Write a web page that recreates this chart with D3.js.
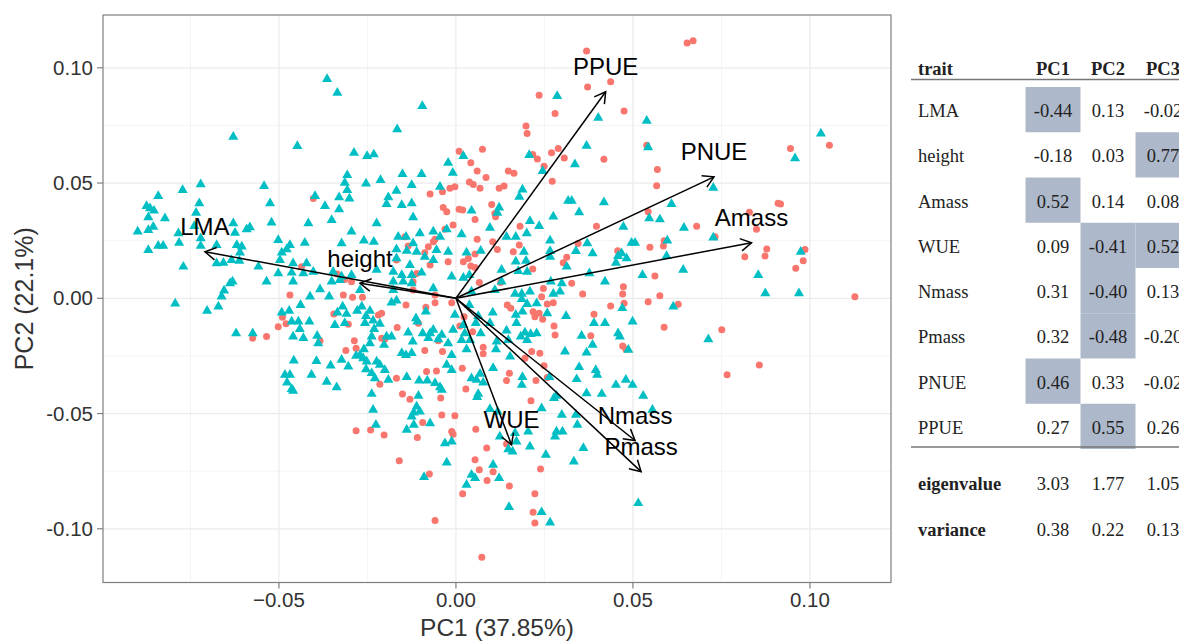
<!DOCTYPE html>
<meta charset="utf-8">
<style>

body {
    margin: 0;
    background: #fff;
}

svg {
    display: block;
}

.grid-major line {
    stroke: #ebebeb;
    stroke-width: 1.2px;
}

.grid-minor line {
    stroke: #f1f1f1;
    stroke-width: 0.8px;
}

.tick-label,
.axis-title {
    font-family: "Liberation Sans", Arial, sans-serif;
    fill: #333;
}

.loading-label {
    font-family: "Liberation Sans", Arial, sans-serif;
    font-size: 24px;
    fill: #000;
}

.tbl text {
    font-family: "Liberation Serif", "Times New Roman", serif;
    font-size: 18.5px;
    fill: #222;
}

</style>

<svg width="1179" height="642"></svg>
<script src="https://cdn.jsdelivr.net/npm/d3@7"></script>

<script>

// axis ticks
var xTicks = [-0.05, 0, 0.05, 0.10];
var xTickLabels = ["\u22120.05", "0.00", "0.05", "0.10"];
var yTicks = [-0.10, -0.05, 0, 0.05, 0.10];
var yTickLabels = ["-0.10", "-0.05", "0.00", "0.05", "0.10"];
var xMinor = [-0.075, -0.025, 0.025, 0.075];
var yMinor = [-0.075, -0.025, 0.025, 0.075];

// site scores, group shown as triangles
var triPoints = [
    [-.0629,.0700],[-.0841,.0443],[-.0772,.0469],[-.0721,.0494],[-.0874,.0400],[-.0864,.0390],[-.0853,.0380],[-.0869,.0351],[-.0822,.0347],[-.0725,.0412],[-.0734,.0371],[-.0855,.0310],[-.0869,.0296],[-.0899,.0289],[-.0739,.0313],[-.0784,.0282],[-.0782,.0241],[-.0841,.0228],[-.0827,.0228],[-.0869,.0209],[-.0721,.0227],[-.0721,.0260],[-.0629,.0325],[-.0624,.0284],[-.0591,.0299],[-.0582,.0308],[-.0619,.0231],[-.0605,.0224],[-.0610,.0198],[-.0634,.0166],[-.0612,.0163],[-.0676,.0231],[-.0676,.0152],[-.0657,.0154],[-.0770,.0137],[-.0558,.0137],[-.0638,.0065],[-.0631,.0072],[-.0655,.0033],[-.0662,.0007],[-.0793,-.0023],[-.0703,-.0054],[-.0671,-.0036],[-.0621,-.0152],[-.0574,-.0152],
    [-.0364,.0951],
    [-.0335,.0891],[-.0095,.0834],[-.0166,.0733],[-.0448,.0660],[-.0288,.0631],[-.0251,.0617],[-.0232,.0624],[-.0022,.0588],[-.0009,.0544],[-.0307,.0534],[-.0151,.0539],[-.0097,.0539],[-.0542,.0487],[-.0314,.0501],[-.0254,.0498],[-.0213,.0513],[-.0125,.0491],[-.0307,.0469],[-.0168,.0466],[-.0045,.0484],[-.0525,.0412],[-.0398,.0443],[-.0330,.0438],[-.0301,.0433],[-.0191,.0438],[-.0196,.0409],[-.0153,.0404],[-.0125,.0412],[-.0370,.0400],[-.0330,.0386],[-.0121,.0351],[-.0521,.0328],[-.0417,.0325],[-.0351,.0339],[-.0224,.0325],[-.0295,.0289],[-.0064,.0289],[-.0026,.0299],[-.0502,.0253],[-.0469,.0231],[-.0427,.0241],[-.0323,.0238],[-.0260,.0250],[-.0232,.0245],[-.0163,.0267],[-.0141,.0267],[-.0102,.0282],[-.0045,.0267],[-.0121,.0238],[-.0492,.0198],[-.0478,.0212],[-.0168,.0212],[-.0139,.0206],[-.0111,.0202],[-.0055,.0209],[-.0022,.0202],[-.0088,.0180],[-.0497,.0166],[-.0460,.0152],[-.0422,.0152],[-.0168,.0173],[-.0130,.0144],[-.0064,.0166],[-.0502,.0108],[-.0464,.0111],[-.0431,.0108],[-.0403,.0115],[-.0347,.0115],[-.0323,.0094],[-.0295,.0101],[-.0224,.0123],[-.0177,.0115],[-.0153,.0101],[-.0125,.0101],[-.0097,.0111],[-.0177,.0072],[-.0149,.0072],[-.0125,.0065],[-.0535,.0072],[-.0460,.0072],[-.0384,.0039],[-.0351,.0072],[-.0328,.0079],[-.0271,.0036],[-.0177,.0036],[-.0064,.0043],[-.0412,.0007],[-.0358,.0007],[-.0012,.0094],
    [.0286,.0877],[.0402,.0783],[.0539,.0770],[.0021,.0617],[.0207,.0621],[.0369,.0661],[.0336,.0581],[.0543,.0655],[.0245,.0552],[.0188,.0472],[.0179,.0440],[.0327,.0423],[.0317,.0423],[.0418,.0416],[.0122,.0394],[.0044,.0380],[.0117,.0371],[.0275,.0354],[.0348,.0373],[.0209,.0335],[.0096,.0306],[.0235,.0313],[.0200,.0282],[.0016,.0277],[.0143,.0267],[.0169,.0267],[.0266,.0250],[.0371,.0238],[.0473,.0310],[.0496,.0241],[.0506,.0241],[.0030,.0198],[.0070,.0206],[.0192,.0202],[.0266,.0205],[.0339,.0205],[.0386,.0195],[.0458,.0183],[.0468,.0195],[.0169,.0159],[.0198,.0163],[.0266,.0180],[.0313,.0137],[.0452,.0154],[.0482,.0173],[.0527,.0101],[.0129,.0123],[.0176,.0118],[.0201,.0115],[.0377,.0108],[.0021,.0089],[.0038,.0101],[.0129,.0072],[.0268,.0072],[.0299,.0065],[.0421,.0072],[.0110,.0036],[.0167,.0019],[.0186,.0019],[.0209,.0029],[.0275,.0019],[.0294,.0029],[.0044,.0029],
    [.1031,.0715],[.0958,.0607],[.0727,.0479],[.0609,.0409],[.0576,.0342],[.0546,.0347],[.0644,.0306],[.0597,.0250],[.0727,.0263],[.0974,.0202],[.0642,.0123],[.0854,.0101],[.0874,.0022],[.0969,.0022],[.0614,-.0036],[.0595,.0183],[.0713,-.0178],[.0555,-.0484],
    [.0150,-.0906],[.0242,-.0928],[.0266,-.0973],[.0515,-.0889],
    [-.0439,-.0029],[-.0492,-.0062],[-.0471,-.0054],[-.0464,-.0101],[-.0445,-.0101],[-.0414,-.0101],[-.0441,-.0134],[-.0460,-.0166],[-.0431,-.0173],[-.0392,-.0163],[-.0389,-.0195],[-.0335,-.0062],[-.0320,-.0036],[-.0309,-.0068],[-.0342,-.0116],[-.0314,-.0108],[-.0279,-.0054],[-.0266,-.0036],[-.0254,-.0077],[-.0243,-.0054],[-.0257,-.0108],[-.0234,-.0097],[-.0215,-.0111],[-.0231,-.0134],[-.0238,-.0166],[-.0182,-.0019],[-.0168,-.0010],[-.0196,-.0166],[-.0182,-.0166],[-.0203,-.0202],[-.0243,-.0195],[-.0260,-.0221],[-.0271,-.0246],[-.0262,-.0260],[-.0282,-.0250],[-.0252,-.0275],[-.0224,-.0275],[-.0215,-.0289],[-.0238,-.0325],[-.0201,-.0311],[-.0229,-.0347],[-.0191,-.0354],[-.0139,-.0342],[-.0153,-.0238],[-.0141,-.0246],[-.0125,-.0238],[-.0113,-.0087],[-.0085,-.0058],[-.0109,-.0101],[-.0135,-.0149],[-.0122,-.0188],[-.0094,-.0152],[-.0073,-.0152],[-.0064,-.0137],[-.0078,-.0173],[-.0050,-.0178],[-.0022,-.0195],[-.0008,-.0137],[-.0003,-.0072],[-.0040,-.0159],[-.0012,-.0246],[-.0026,-.0289],[-.0012,-.0311],[-.0104,-.0357],[-.0081,-.0357],[-.0059,-.0368],[-.0045,-.0386],[-.0040,-.0397],[-.0458,-.0270],[-.0394,-.0272],[-.0354,-.0292],[-.0323,-.0267],[-.0304,-.0296],[-.0483,-.0332],[-.0469,-.0332],[-.0408,-.0332],[-.0477,-.0366],[-.0464,-.0394],[-.0460,-.0401],[-.0365,-.0362],[-.0337,-.0386],[-.0254,-.0308],[-.0238,-.0415],[-.0106,-.0423],[-.0234,-.0484],[-.0226,-.0549],[-.0111,-.0470],[-.0119,-.0496],[-.0125,-.0513],[-.0102,-.0492],[-.0119,-.0549],[-.0139,-.0571],[-.0073,-.0542],[-.0031,-.0629],[-.0012,-.0622],[-.0026,-.0713],[-.0090,-.0776],
    [.0186,-.0004],[.0201,-.0025],[.0228,-.0022],[.0104,-.0062],[.0169,-.0072],[.0188,-.0058],[.0258,-.0065],[.0311,-.0077],[.0390,-.0108],[.0421,-.0108],[.0499,-.0101],[.0470,-.0043],[.0063,-.0077],[.0021,-.0116],[.0056,-.0108],[.0096,-.0108],[.0171,-.0108],[.0025,-.0152],[.0070,-.0152],[.0143,-.0140],[.0195,-.0149],[.0211,-.0155],[.0201,-.0181],[.0183,-.0166],[.0228,-.0152],[.0115,-.0188],[.0148,-.0181],[.0355,-.0163],[.0458,-.0152],[.0463,-.0166],[.0016,-.0181],[.0040,-.0181],[.0030,-.0221],[.0113,-.0221],[.0153,-.0253],[.0308,-.0231],[.0369,-.0236],[.0386,-.0202],[.0487,-.0224],[.0105,-.0303],[.0068,-.0328],[.0044,-.0347],[.0058,-.0354],[.0077,-.0366],[.0188,-.0342],[.0186,-.0376],[.0264,-.0342],[.0277,-.0433],[.0348,-.0299],[.0395,-.0311],[.0399,-.0332],[.0341,-.0351],[.0452,-.0376],[.0480,-.0354],[.0499,-.0376],[.0369,-.0412],[.0412,-.0415],[.0529,-.0423],[.0063,-.0415],[.0060,-.0429],[.0284,-.0423],[.0096,-.0481],[.0118,-.0492],[.0242,-.0477],[.0299,-.0506],[.0339,-.0506],[.0343,-.0549],[.0284,-.0578],[.0301,-.0578],[.0280,-.0600],[.0204,-.0578],[.0124,-.0600],[.0167,-.0585],[.0171,-.0622],[.0148,-.0655],[.0160,-.0665],[.0209,-.0643],[.0254,-.0679],[.0360,-.0650],[.0333,-.0708],[.0105,-.0723],[.0044,-.0766],[.0054,-.0780],[.0122,-.0780],[.0030,-.0809],[.0038,-.0029]
];

// site scores, group shown as circles
var circPoints = [
    [-.0574,-.0173],
    [-.0073,.0452],[-.0038,.0462],[-.0017,.0477],[-.0003,.0484],[-.0403,.0433],[-.0036,.0394],[-.0026,.0375],[-.0008,.0318],[-.0031,.0299],[-.0144,.0267],[-.0059,.0256],[-.0135,.0227],[-.0078,.0224],[-.0064,.0245],[-.0088,.0198],[-.0168,.0166],[-.0073,.0144],[-.0022,.0159],[-.0436,.0137],[-.0335,.0105],[-.0314,.0082],[-.0295,.0072],[-.0111,.0108],[-.0121,.0072],[-.0469,.0014],[-.0318,.0014],[-.0059,.0014],[-.0121,.0036],[.0011,-.0120],
    [.0235,.0881],[.0280,.0802],[.0475,.0812],[.0198,.0747],[.0201,.0715],[.0539,.0664],[.0009,.0638],[.0075,.0647],[.0217,.0624],[.0230,.0604],[.0270,.0631],[.0289,.0650],[.0306,.0609],[.0418,.0603],[.0042,.0588],[.0249,.0573],[.0060,.0552],[.0148,.0552],[.0164,.0542],[.0085,.0524],[.0272,.0508],[.0038,.0505],[.0049,.0494],[.0068,.0477],[.0122,.0477],[.0136,.0487],[.0101,.0407],[.0009,.0386],[.0019,.0383],[.0110,.0368],[.0054,.0342],[.0112,.0354],[.0181,.0313],[.0397,.0313],[.0060,.0256],[.0104,.0245],[.0179,.0231],[.0345,.0238],[.0117,.0212],[.0162,.0202],[.0054,.0192],[.0035,.0173],[.0021,.0159],[.0042,.0140],[.0054,.0134],[.0313,.0178],[.0303,.0154],[.0457,.0206],[.0217,.0127],[.0066,.0068],[.0126,.0068],[.0327,.0065],[.0247,.0043],[.0358,.0019],[.0473,.0050],[.0471,.0019],[.0543,.0375],
    [.0369,.1073],[.0372,.0917],[.0437,.0939],
    [.0653,.1108],[.0670,.1117],[.0569,.0559],[.0567,.0488],[.0945,.0650],[.1055,.0664],[.0910,.0412],[.0917,.0409],[.0829,.0373],[.0849,.0299],[.0680,.0313],[.0732,.0267],[.0548,.0221],[.0586,.0227],[.0588,.0250],[.0878,.0214],[.0986,.0212],[.0816,.0180],[.0873,.0183],[.0981,.0163],[.0960,.0130],[.0562,.0097],[.0576,.0011],[.0543,-.0015],[.0628,-.0026],[.1127,.0007],[.0588,-.0126],[.0751,-.0137],[.0857,-.0289],[.0766,-.0332],
    [.0019,-.0848],[.0223,-.0848],[.0218,-.0928],[.0223,-.0975],[.0073,-.1123],
    [-.0059,-.0964],
    [-.0535,-.0166],[-.0502,-.0123],[-.0480,-.0111],[-.0490,-.0082],[-.0345,-.0068],[-.0304,-.0113],[-.0292,.0004],[-.0264,.0004],[-.0219,-.0072],[-.0210,-.0065],[-.0141,-.0029],[-.0085,-.0039],[-.0059,-.0019],[-.0012,-.0019],[-.0166,-.0127],[-.0384,-.0184],[-.0287,-.0184],[-.0311,-.0227],[-.0282,-.0217],[-.0210,-.0173],[-.0201,-.0178],[-.0106,-.0108],[-.0088,-.0227],[-.0038,-.0231],[-.0050,-.0184],[-.0083,-.0318],[-.0055,-.0315],[-.0168,-.0347],[-.0215,-.0373],[-.0151,-.0415],[-.0130,-.0438],[-.0043,-.0433],[-.0040,-.0506],[-.0003,-.0510],[-.0094,-.0539],[-.0282,-.0575],[-.0241,-.0571],[-.0203,-.0593],[-.0109,-.0604],[-.0012,-.0578],[-.0008,-.0590],[-.0160,-.0705],[-.0075,-.0762],
    [.0242,.0007],[.0258,-.0025],[.0275,-.0019],[.0145,-.0029],[.0155,-.0043],[.0218,-.0058],[.0235,-.0065],[.0245,-.0091],[.0223,-.0080],[.0437,-.0033],[.0475,-.0022],[.0390,-.0069],[.0023,-.0080],[.0047,-.0145],[.0277,-.0120],[.0280,-.0159],[.0381,-.0163],[.0471,-.0207],[.0480,-.0221],[.0077,-.0212],[.0077,-.0241],[.0214,-.0231],[.0237,-.0238],[.0195,-.0260],[.0018,-.0303],[.0151,-.0325],[.0143,-.0357],[.0226,-.0357],[.0258,-.0344],[.0249,-.0293],[.0028,-.0394],[.0212,-.0445],[.0056,-.0568],[.0087,-.0650],[.0143,-.0632],[.0054,-.0701],[.0066,-.0744],[.0088,-.0791],[.0105,-.0752],[.0239,-.0741],[.0151,-.0814]
];

// loading arrows (scaled to the score axes)
var arrowNames = ["LMA", "height", "Amass", "WUE", "Nmass", "Pmass", "PNUE", "PPUE"];
var arrowPC1 = [-0.0709, -0.0271, 0.0835, 0.0157, 0.0506, 0.0523, 0.0729, 0.0423];
var arrowPC2 = [0.0202, 0.0065, 0.0241, -0.0636, -0.0617, -0.0752, 0.0527, 0.0896];

// loadings table
var traits = ["LMA", "height", "Amass", "WUE", "Nmass", "Pmass", "PNUE", "PPUE"];
var pcNames = ["PC1", "PC2", "PC3"];
var pc1 = [-0.44, -0.18, 0.52, 0.09, 0.31, 0.32, 0.46, 0.27];
var pc2 = [0.13, 0.03, 0.14, -0.41, -0.40, -0.48, 0.33, 0.55];
var pc3 = [-0.02, 0.77, 0.08, 0.52, 0.13, -0.20, -0.02, 0.26];
var eigenvalues = [3.03, 1.77, 1.05];
var variances = [0.38, 0.22, 0.13];

var svg = d3.select("svg");

var panel = {left: 103, right: 891, top: 15, bottom: 582.5};

var x = d3.scaleLinear()
    .domain([-0.0997, 0.1229])
    .range([panel.left, panel.right]);

var y = d3.scaleLinear()
    .domain([-0.1233, 0.1229])
    .range([panel.bottom, panel.top]);

// grid
var minorG = svg.append("g").attr("class", "grid-minor");
minorG.selectAll("line.vx").data(xMinor).enter().append("line")
    .attr("x1", x).attr("x2", x)
    .attr("y1", panel.top).attr("y2", panel.bottom);
minorG.selectAll("line.hy").data(yMinor).enter().append("line")
    .attr("y1", y).attr("y2", y)
    .attr("x1", panel.left).attr("x2", panel.right);

var majorG = svg.append("g").attr("class", "grid-major");
majorG.selectAll("line.vx").data(xTicks).enter().append("line")
    .attr("x1", x).attr("x2", x)
    .attr("y1", panel.top).attr("y2", panel.bottom);
majorG.selectAll("line.hy").data(yTicks).enter().append("line")
    .attr("y1", y).attr("y2", y)
    .attr("x1", panel.left).attr("x2", panel.right);

// points
var color = {circ: "#F8766D", tri: "#00BFC4"};

svg.append("g").selectAll("circle")
    .data(circPoints)
    .enter().append("circle")
    .attr("cx", function(d) { return x(d[0]); })
    .attr("cy", function(d) { return y(d[1]); })
    .attr("r", 3.5)
    .attr("fill", color.circ);

var tri = d3.symbol().type(d3.symbolTriangle).size(44);
svg.append("g").selectAll("path")
    .data(triPoints)
    .enter().append("path")
    .attr("d", tri)
    .attr("transform", function(d) { return "translate(" + x(d[0]) + "," + y(d[1]) + ")"; })
    .attr("fill", color.tri);

// arrows
var arrows = arrowNames.map(function(n, i) {
    return {name: n, pc1: arrowPC1[i], pc2: arrowPC2[i]};
});

var arrowG = svg.append("g")
    .attr("fill", "none")
    .attr("stroke", "#000")
    .attr("stroke-width", 1.5);

arrowG.selectAll("line")
    .data(arrows)
    .enter().append("line")
    .attr("x1", x(0)).attr("y1", y(0))
    .attr("x2", function(d) { return x(d.pc1); })
    .attr("y2", function(d) { return y(d.pc2); });

arrowG.selectAll("path")
    .data(arrows)
    .enter().append("path")
    .attr("d", function(d) {
        var tx = x(d.pc1), ty = y(d.pc2);
        var a = Math.atan2(ty - y(0), tx - x(0));
        var len = 12.5, spread = Math.PI / 6;
        var p1 = [tx - len * Math.cos(a - spread), ty - len * Math.sin(a - spread)];
        var p2 = [tx - len * Math.cos(a + spread), ty - len * Math.sin(a + spread)];
        return "M" + p1 + "L" + tx + "," + ty + "L" + p2;
    });

svg.append("g").selectAll("text")
    .data(arrows)
    .enter().append("text")
    .attr("class", "loading-label")
    .attr("x", function(d) { return x(d.pc1); })
    .attr("y", function(d) { return y(d.pc2) - 25; })
    .attr("dy", "0.35em")
    .attr("text-anchor", "middle")
    .text(function(d) { return d.name; });

// panel border
svg.append("rect")
    .attr("x", panel.left).attr("y", panel.top)
    .attr("width", panel.right - panel.left)
    .attr("height", panel.bottom - panel.top)
    .attr("fill", "none")
    .attr("stroke", "#7f7f7f")
    .attr("stroke-width", 1.2);

// axes ticks and labels
var axisG = svg.append("g");
axisG.selectAll("line.xt").data(xTicks).enter().append("line")
    .attr("x1", x).attr("x2", x)
    .attr("y1", panel.bottom).attr("y2", panel.bottom + 6)
    .attr("stroke", "#7f7f7f").attr("stroke-width", 1.2);
axisG.selectAll("line.yt").data(yTicks).enter().append("line")
    .attr("y1", y).attr("y2", y)
    .attr("x1", panel.left - 6).attr("x2", panel.left)
    .attr("stroke", "#7f7f7f").attr("stroke-width", 1.2);

axisG.selectAll("text.xl").data(xTicks).enter().append("text")
    .attr("class", "tick-label")
    .attr("x", x)
    .attr("y", 607)
    .attr("text-anchor", "middle")
    .style("font-size", "20.5px")
    .text(function(d, i) { return xTickLabels[i]; });

axisG.selectAll("text.yl").data(yTicks).enter().append("text")
    .attr("class", "tick-label")
    .attr("x", 93)
    .attr("y", y)
    .attr("dy", "0.35em")
    .attr("text-anchor", "end")
    .style("font-size", "20.5px")
    .text(function(d, i) { return yTickLabels[i]; });

svg.append("text")
    .attr("class", "axis-title")
    .attr("x", (panel.left + panel.right) / 2)
    .attr("y", 636)
    .attr("text-anchor", "middle")
    .style("font-size", "24.5px")
    .text("PC1 (37.85%)");

svg.append("text")
    .attr("class", "axis-title")
    .attr("transform", "translate(24," + ((panel.top + panel.bottom) / 2) + ") rotate(-90)")
    .attr("dy", "0.35em")
    .attr("text-anchor", "middle")
    .style("font-size", "25px")
    .text("PC2 (22.1%)");

// loadings table
var tbl = svg.append("g").attr("class", "tbl");

var col = d3.scaleBand().domain(pcNames).range([1025.5, 1190.5]);
var row = d3.scaleBand().domain(traits).range([87, 449]);
var traitX = 918;

var loadings = traits.map(function(t, i) { return [pc1[i], pc2[i], pc3[i]]; });

// shaded cells for |loading| >= 0.4
loadings.forEach(function(vals, i) {
    vals.forEach(function(v, j) {
        if (Math.abs(v) >= 0.395) {
            tbl.append("rect")
                .attr("x", col(pcNames[j]))
                .attr("y", row(traits[i]))
                .attr("width", col.bandwidth())
                .attr("height", row.bandwidth())
                .attr("fill", "#adb8ca");
        }
    });
});

// header
tbl.append("text")
    .attr("x", traitX).attr("y", 68.5).attr("dy", "0.35em")
    .style("font-weight", "bold")
    .text("trait");
tbl.selectAll("text.hdr").data(pcNames).enter().append("text")
    .attr("x", function(d) { return col(d) + col.bandwidth() / 2; })
    .attr("y", 68.5).attr("dy", "0.35em")
    .attr("text-anchor", "middle")
    .style("font-weight", "bold")
    .text(function(d) { return d; });

tbl.append("line")
    .attr("x1", 911).attr("x2", 1179)
    .attr("y1", 79.5).attr("y2", 79.5)
    .attr("stroke", "#777").attr("stroke-width", 1.5);

// body rows
traits.forEach(function(t, i) {
    var cy = row(t) + row.bandwidth() / 2 + 1;
    tbl.append("text")
        .attr("x", traitX).attr("y", cy).attr("dy", "0.35em")
        .text(t);
    loadings[i].forEach(function(v, j) {
        tbl.append("text")
            .attr("x", col(pcNames[j]) + col.bandwidth() / 2)
            .attr("y", cy).attr("dy", "0.35em")
            .attr("text-anchor", "middle")
            .text(v.toFixed(2));
    });
});

tbl.append("line")
    .attr("x1", 911).attr("x2", 1179)
    .attr("y1", 447).attr("y2", 447)
    .attr("stroke", "#777").attr("stroke-width", 1.5);

// eigenvalue / variance rows
[["eigenvalue", eigenvalues, 483.5], ["variance", variances, 530]].forEach(function(r) {
    tbl.append("text")
        .attr("x", traitX).attr("y", r[2]).attr("dy", "0.35em")
        .style("font-weight", "bold")
        .text(r[0]);
    r[1].forEach(function(v, j) {
        tbl.append("text")
            .attr("x", col(pcNames[j]) + col.bandwidth() / 2)
            .attr("y", r[2]).attr("dy", "0.35em")
            .attr("text-anchor", "middle")
            .text(v.toFixed(2));
    });
});

</script>
